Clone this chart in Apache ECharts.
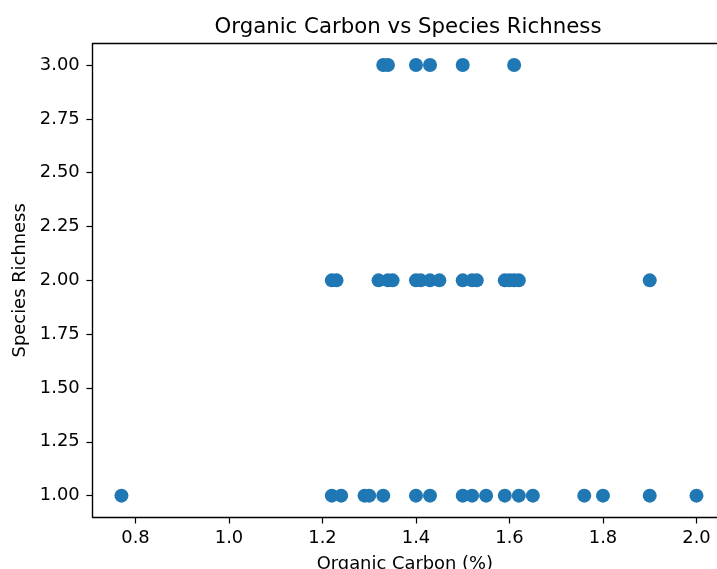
<!DOCTYPE html>
<html>
<head>
<meta charset="utf-8">
<script src="https://cdn.jsdelivr.net/npm/echarts@6/dist/echarts.min.js"></script>
<style>html,body{margin:0;padding:0;background:#fff;}#c{width:717px;height:569px;}</style>
</head>
<body>
<div id="c"></div>
<script>
const organicCarbon = [
  1.33, 1.34, 1.40, 1.43, 1.50, 1.61,
  1.22, 1.23, 1.32, 1.34, 1.35, 1.40, 1.41, 1.43, 1.45, 1.50, 1.52, 1.53, 1.59, 1.60, 1.61, 1.62, 1.90,
  0.77, 1.22, 1.24, 1.29, 1.30, 1.33, 1.40, 1.43, 1.50, 1.52, 1.55, 1.59, 1.62, 1.65, 1.76, 1.80, 1.90, 2.00
];
const speciesRichness = [
  3, 3, 3, 3, 3, 3,
  2, 2, 2, 2, 2, 2, 2, 2, 2, 2, 2, 2, 2, 2, 2, 2, 2,
  1, 1, 1, 1, 1, 1, 1, 1, 1, 1, 1, 1, 1, 1, 1, 1, 1, 1
];
const xTicks = [0.8, 1.0, 1.2, 1.4, 1.6, 1.8, 2.0];
const yTicks = [1.00, 1.25, 1.50, 1.75, 2.00, 2.25, 2.50, 2.75, 3.00];

const xMin = 0.7085, xMax = 2.0439, yMin = 0.9, yMax = 3.1;
const font = 'DejaVu Sans';
const points = organicCarbon.map((v, i) => [v, speciesRichness[i]]);

const chart = echarts.init(document.getElementById('c'), null, {renderer: 'canvas'});
chart.setOption({
  animation: false,
  backgroundColor: '#fff',
  title: {
    text: 'Organic Carbon vs Species Richness',
    left: 403, textAlign: 'center', top: 12,
    textStyle: {fontFamily: font, fontSize: 21.3, fontWeight: 'normal', color: '#000'}
  },
  grid: {
    left: 92.7, top: 43.5, right: 0, bottom: 51.8,
    outerBoundsMode: 'none',
    containLabel: false,
    show: false
  },
  xAxis: [{
    type: 'value', min: xMin, max: xMax,
    name: 'Organic Carbon (%)', nameLocation: 'middle', nameGap: 38,
    nameTextStyle: {fontFamily: font, fontSize: 17.9, color: '#000'},
    splitLine: {show: false},
    axisLine: {show: true, lineStyle: {color: '#000', width: 1.4}},
    axisTick: {show: true, length: 6.3, lineStyle: {color: '#000', width: 1.2}, customValues: xTicks},
    axisLabel: {fontFamily: font, fontSize: 17.9, color: '#000', margin: 12, customValues: xTicks,
      formatter: v => v.toFixed(1)}
  }, {
    type: 'value', min: xMin, max: xMax, position: 'top',
    splitLine: {show: false},
    axisLine: {show: true, onZero: false, lineStyle: {color: '#000', width: 1.4}},
    axisTick: {show: false}, axisLabel: {show: false}
  }],
  yAxis: {
    type: 'value', min: yMin, max: yMax,
    name: 'Species Richness', nameLocation: 'middle', nameGap: 62,
    nameTextStyle: {fontFamily: font, fontSize: 17.9, color: '#000'},
    splitLine: {show: false},
    axisLine: {show: true, lineStyle: {color: '#000', width: 1.4}},
    axisTick: {show: true, length: 6.3, lineStyle: {color: '#000', width: 1.2}, customValues: yTicks},
    axisLabel: {fontFamily: font, fontSize: 17.9, color: '#000', margin: 13, customValues: yTicks,
      formatter: v => v.toFixed(2)}
  },
  series: [{
    type: 'scatter',
    xAxisIndex: 0,
    data: points,
    symbol: 'circle',
    symbolSize: 14,
    itemStyle: {color: '#1f77b4', opacity: 1}
  }]
});
</script>
</body>
</html>
